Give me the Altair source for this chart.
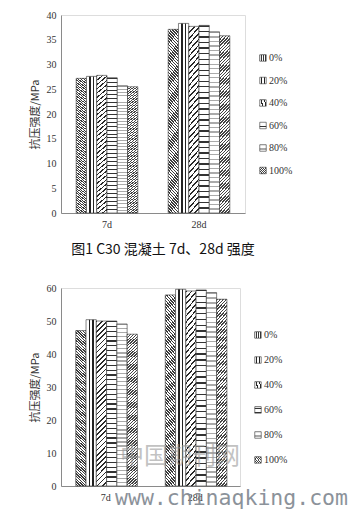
import altair as alt
import pandas as pd

# ---------------- data ----------------
ages = ["7d", "28d"]
series = ["0%", "20%", "40%", "60%", "80%", "100%"]

top_7d = [27.2, 27.6, 27.8, 27.3, 25.7, 25.5]
top_28d = [37.1, 38.3, 37.7, 37.9, 36.6, 35.8]

bot_7d = [47.1, 50.4, 50.0, 50.0, 49.1, 46.0]
bot_28d = [57.9, 59.6, 59.1, 59.4, 58.6, 56.6]

top_ticks = [0, 5, 10, 15, 20, 25, 30, 35, 40]
bot_ticks = [0, 10, 20, 30, 40, 50, 60]

y_title = "抗压强度/MPa"
caption = "图1 C30 混凝土 7d、28d 强度"
watermark_cn = ["中国期刊网"]
watermark_url = ["www.chinaqking.com"]


def table(v7, v28):
    rows = []
    for s, a, b in zip(series, v7, v28):
        rows.append({"age": "7d", "series": s, "value": a})
        rows.append({"age": "28d", "series": s, "value": b})
    return pd.DataFrame(rows)


# ---------------- hatch-like fills (striped gradients) ----------------
def grad(x1, y1, x2, y2, stops):
    parts = ["{offset:%.4f,color:'%s'}" % (o, c) for o, c in stops]
    return ("{gradient:'linear',x1:%.4f,y1:%.4f,x2:%.4f,y2:%.4f,stops:[%s]}"
            % (x1, y1, x2, y2, ",".join(parts)))


def stripe_stops(n, frac, dark, light="#ffffff"):
    st = []
    for i in range(n):
        a = i / n
        b = (i + frac) / n
        c = (i + 1) / n
        st += [(a, dark), (b, dark), (b, light), (c, light)]
    return st


r = 0.0625
s = (1 + r) / (1 + r * r)


def back_diag(n, frac, dark):   # lines like "\"
    return grad(1, 0, 1 - r * s, s, stripe_stops(n, frac, dark))


def fwd_diag(n, frac, dark):    # lines like "/"
    return grad(0, 0, r * s, s, stripe_stops(n, frac, dark))


fills = [
    back_diag(62, 0.5, "#3a3a3a"),                                       # 0%
    grad(0, 0, 1, 0, [(0, "#fff"), (0.26, "#fff"), (0.26, "#222"), (0.40, "#222"),
                      (0.40, "#fff"), (0.60, "#fff"), (0.60, "#222"), (0.74, "#222"),
                      (0.74, "#fff"), (1, "#fff")]),                       # 20%
    fwd_diag(34, 0.32, "#2a2a2a"),                                       # 40%
    grad(0, 0, 0, 1, stripe_stops(34, 0.25, "#333333")),                 # 60%
    grad(0, 0, 0, 1, stripe_stops(40, 0.3, "#aaaaaa")),                  # 80%
    fwd_diag(58, 0.48, "#444444"),                                       # 100%
]
color_range = [{"expr": f} for f in fills]

label_font = "Liberation Serif"
cjk_font = "Noto Sans CJK SC"


def make_chart(df, ymax, ticks, width, lx, ly, row_pad, title=None, extra=None):
    bars = alt.Chart(df).mark_bar(stroke="#333333", strokeWidth=0.6).encode(
        x=alt.X("age:N", sort=ages,
                scale=alt.Scale(paddingInner=0.33, paddingOuter=0.165),
                axis=alt.Axis(title=None, labelAngle=0, ticks=False, domainColor="#8a8a8a",
                              labelFont=label_font, labelFontSize=10, labelColor="#333333",
                              labelPadding=6)),
        xOffset=alt.XOffset("series:N", sort=series,
                            scale=alt.Scale(paddingInner=0, paddingOuter=0)),
        y=alt.Y("value:Q", scale=alt.Scale(domain=[0, ymax], nice=False),
                axis=alt.Axis(values=ticks, title=y_title, grid=False, ticks=False,
                              domainColor="#8a8a8a", labelFont=label_font, labelFontSize=10,
                              labelColor="#333333", labelPadding=5, titleFont=cjk_font,
                              titleFontSize=11, titleFontWeight="normal", titleColor="#333333",
                              titlePadding=6)),
        color=alt.Color("series:N", sort=series,
                        scale=alt.Scale(domain=series, range=color_range),
                        legend=alt.Legend(title=None, orient="none", legendX=lx, legendY=ly,
                                          symbolType="square", symbolSize=42,
                                          symbolStrokeColor="#333333", symbolStrokeWidth=0.6,
                                          labelFont=label_font, labelFontSize=10,
                                          labelColor="#333333", labelOffset=1,
                                          rowPadding=row_pad)),
    )
    layers = [bars] + (extra or [])
    props = dict(width=width, height=198)
    if title is not None:
        props["title"] = title
    return alt.layer(*layers).properties(**props)


top = make_chart(
    table(top_7d, top_28d), 40, top_ticks, 184, 197, 38, 12.5,
    title=alt.TitleParams(text=caption, orient="bottom", font=cjk_font, fontSize=14,
                          fontWeight="normal", color="#111111", offset=14,
                          frame="group", anchor="middle", dx=10),
)

wm1 = alt.Chart(pd.DataFrame({"t": watermark_cn})).mark_text(
    font=cjk_font, fontSize=24, color="#9a9a9a", opacity=0.6, align="center",
    baseline="alphabetic").encode(text="t:N", x=alt.value(119), y=alt.value(176))
wm2 = alt.Chart(pd.DataFrame({"t": watermark_url})).mark_text(
    font="DejaVu Sans Mono", fontSize=21.5, color="#7f8790", opacity=0.9, align="left",
    baseline="alphabetic").encode(text="t:N", x=alt.value(54), y=alt.value(217))
# invisible spacer so that the lower panel sits a little further right
spacer = alt.Chart(pd.DataFrame({"t": [""]})).mark_rule(opacity=0, strokeWidth=0).encode(
    x=alt.value(-42), x2=alt.value(-41), y=alt.value(100))

bottom = make_chart(table(bot_7d, bot_28d), 60, bot_ticks, 179, 192, 42, 15,
                    extra=[wm1, wm2, spacer])

chart = alt.concat(top, bottom, columns=1, spacing=24, align="none").resolve_scale(
    color="independent").resolve_legend(color="independent").properties(
    padding={"left": 18, "top": 9, "right": 0, "bottom": 0}
).configure_view(stroke=None).configure(background="white")

chart.save("out.html", embed_options={"renderer": "svg", "actions": False})
